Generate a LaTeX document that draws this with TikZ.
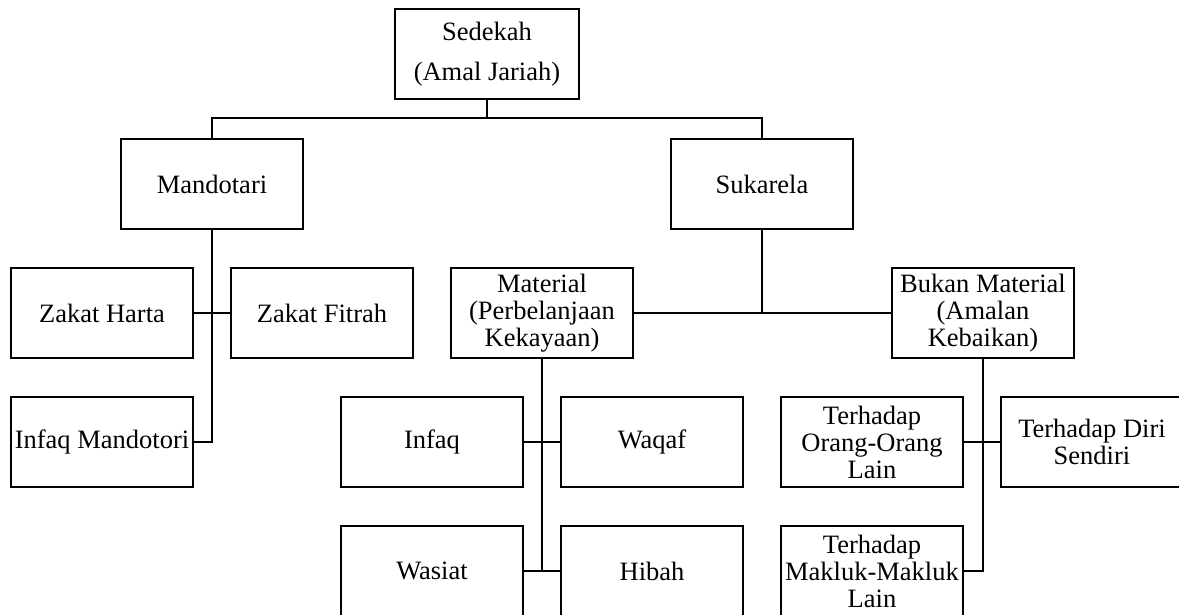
\documentclass[tikz,border=0pt]{standalone}
\usepackage{fontspec}
\setmainfont{Liberation Serif}
\begin{document}
\begin{tikzpicture}[x=1pt,y=-1pt,
  box/.style={draw, line width=2pt, rectangle, minimum width=182pt, minimum height=90pt, inner sep=0pt, align=center, font=\fontsize{26.5}{27}\selectfont},
  con/.style={line width=1.8pt}]
\useasboundingbox (0,0) rectangle (1179,615);
\node[box, minimum width=184pt, font=\fontsize{26.5}{40}\selectfont] (sed) at (487,54.5){Sedekah\\(Amal Jariah)};
\node[box] (mand) at (212,184){Mandotari};
\node[box] (suka) at (762,184){Sukarela};
\coordinate (j0) at (487,118);
\draw[con](sed) -- (j0);
\draw[con](mand.north) |- (j0) -| (suka.north);
\node[box] (zh) at (102,313){Zakat Harta};
\node[box] (zf) at (322,313){Zakat Fitrah};
\node[box] (im) at (102,442){Infaq Mandotori};
\draw[con](mand.south) |- (im.east);
\draw[con](zh.east) -- (zf.west);
\node[box] (mat) at (542,313){Material\\(Perbelanjaan\\Kekayaan)};
\node[box] (bm) at (983,313){Bukan Material\\(Amalan\\Kebaikan)};
\draw[con](mat.east) -- (bm.west);
\draw[con](suka.south) -- (suka.south |- mat.east);
\node[box] (inf) at (432,442){Infaq};
\node[box] (waq) at (652,442){Waqaf};
\node[box] (was) at (432,571){Wasiat};
\node[box] (hib) at (652,571){Hibah};
\draw[con](mat.south) -- (mat.south |- was.east);
\draw[con](inf.east) -- (waq.west);
\draw[con](was.east) -- (hib.west);
\node[box] (to) at (872,442){Terhadap\\Orang-Orang\\Lain};
\node[box] (td) at (1092,442){Terhadap Diri\\Sendiri};
\node[box] (tm) at (872,571){Terhadap\\Makluk-Makluk\\Lain};
\draw[con](bm.south) |- (tm.east);
\draw[con](to.east) -- (td.west);
\end{tikzpicture}
\end{document}
